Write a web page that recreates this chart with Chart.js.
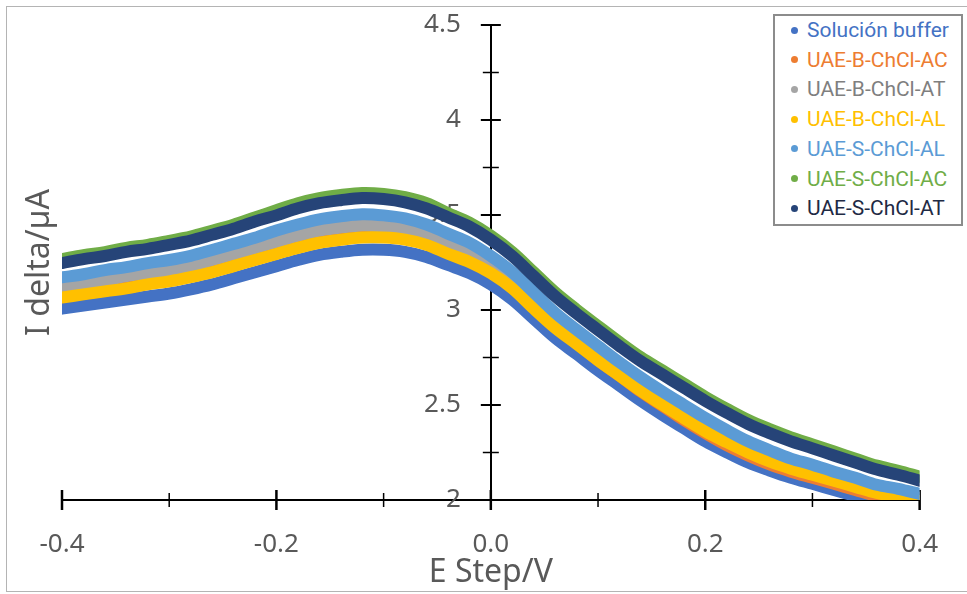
<!DOCTYPE html>
<html><head><meta charset="utf-8">
<script src="https://cdn.jsdelivr.net/npm/chart.js@4.4.1/dist/chart.umd.min.js"></script>
<style>
html,body{margin:0;padding:0;background:#fff;overflow:hidden;}
#wrap{position:relative;width:967px;height:594px;}
#frame{position:absolute;left:6px;top:6px;width:990px;height:586px;border:1px solid #b4b4b4;box-sizing:border-box;pointer-events:none;}
#legend{position:absolute;left:773px;top:14px;width:190px;height:212px;border:2px solid #8c8c8c;box-sizing:border-box;background:#fff;font-family:Roboto,sans-serif;font-size:21px;}
.item{position:absolute;left:32px;height:26px;line-height:26px;white-space:nowrap;}
.dot{position:absolute;left:16px;width:7px;height:7px;border-radius:50%;}
</style></head>
<body><div id="wrap"><canvas id="c" width="967" height="594"></canvas><div id="frame"></div><div id="legend"></div></div>
<script>
const potentials = [-0.40,-0.38,-0.36,-0.34,-0.32,-0.30,-0.28,-0.26,-0.24,-0.22,-0.20,-0.18,-0.16,-0.14,-0.12,-0.10,-0.08,-0.06,-0.04,-0.02,0.00,0.02,0.04,0.06,0.08,0.10,0.12,0.14,0.16,0.18,0.20,0.22,0.24,0.26,0.28,0.30,0.32,0.34,0.36,0.38,0.40];

const seriesNames = ['Solución buffer','UAE-B-ChCl-AC','UAE-B-ChCl-AT','UAE-B-ChCl-AL','UAE-S-ChCl-AL','UAE-S-ChCl-AC','UAE-S-ChCl-AT'];
const seriesColors = ['#4472C4','#ED7D31','#A5A5A5','#FFC000','#5B9BD5','#70AD47','#264478'];
const legendTextColors = ['#4472C4','#ED7D31','#7F7F7F','#FFC000','#5B9BD5','#70AD47','#1F2A44'];

const bufferSol = [3.007,3.023,3.039,3.055,3.071,3.087,3.109,3.135,3.167,3.199,3.231,3.263,3.290,3.306,3.317,3.317,3.306,3.279,3.237,3.194,3.135,3.055,2.954,2.853,2.768,2.682,2.602,2.522,2.448,2.378,2.309,2.251,2.197,2.155,2.117,2.085,2.053,2.021,1.989,1.968,1.947];
const bAC = [3.087,3.103,3.119,3.140,3.156,3.172,3.194,3.226,3.258,3.290,3.322,3.354,3.381,3.397,3.408,3.402,3.391,3.359,3.312,3.269,3.204,3.119,3.018,2.912,2.827,2.735,2.655,2.570,2.496,2.421,2.352,2.288,2.234,2.187,2.149,2.117,2.085,2.053,2.021,2.000,1.979];
const bAT = [3.124,3.140,3.156,3.178,3.194,3.210,3.232,3.263,3.295,3.327,3.359,3.391,3.418,3.434,3.445,3.440,3.429,3.396,3.349,3.301,3.236,3.151,3.050,2.944,2.859,2.767,2.687,2.607,2.528,2.458,2.389,2.326,2.272,2.230,2.186,2.154,2.122,2.085,2.053,2.032,2.011];
const bAL = [3.066,3.082,3.098,3.114,3.135,3.151,3.173,3.199,3.231,3.263,3.295,3.327,3.354,3.370,3.381,3.381,3.370,3.343,3.296,3.253,3.194,3.114,3.007,2.906,2.821,2.735,2.655,2.575,2.501,2.431,2.362,2.304,2.250,2.203,2.165,2.133,2.101,2.069,2.037,2.016,1.995];
const sAL = [3.172,3.188,3.210,3.226,3.247,3.263,3.285,3.316,3.348,3.380,3.418,3.450,3.477,3.493,3.504,3.498,3.482,3.450,3.402,3.354,3.284,3.199,3.093,2.986,2.896,2.810,2.725,2.645,2.571,2.501,2.432,2.368,2.309,2.262,2.218,2.186,2.149,2.117,2.080,2.059,2.032];
const sAC = [3.268,3.289,3.305,3.327,3.343,3.364,3.386,3.417,3.449,3.487,3.525,3.562,3.589,3.605,3.616,3.611,3.594,3.562,3.509,3.460,3.391,3.305,3.199,3.093,3.002,2.916,2.831,2.751,2.682,2.612,2.543,2.480,2.421,2.373,2.330,2.293,2.255,2.218,2.181,2.154,2.123];
const sAT = [3.247,3.268,3.284,3.306,3.322,3.343,3.365,3.396,3.428,3.466,3.498,3.535,3.562,3.578,3.589,3.584,3.567,3.535,3.488,3.439,3.370,3.284,3.178,3.072,2.981,2.895,2.810,2.730,2.661,2.591,2.522,2.459,2.400,2.352,2.309,2.272,2.234,2.197,2.160,2.133,2.102];

const seriesValues = [bufferSol, bAC, bAT, bAL, sAL, sAC, sAT];

const xMajorTicks = [-0.4,-0.2,0,0.2,0.4];
const xMinorTicks = [-0.3,-0.1,0.1,0.3];
const yMajorTicks = [2,2.5,3,3.5,4,4.5];
const yMinorTicks = [2.25,2.75,3.25,3.75,4.25];

const crossTicks = {
  id: 'crossTicks',
  beforeDatasetsDraw(chart) {
    const {ctx, scales: {x, y}} = chart;
    const x0 = x.getPixelForValue(0), y0 = y.getPixelForValue(2);
    ctx.save();
    ctx.strokeStyle = '#000';
    const seg = (x1, y1, x2, y2, w) => { ctx.lineWidth = w; ctx.beginPath(); ctx.moveTo(x1, y1); ctx.lineTo(x2, y2); ctx.stroke(); };
    xMajorTicks.forEach(v => { const p = x.getPixelForValue(v); seg(p, y0 - 10, p, y0 + 10, 2.5); });
    xMinorTicks.forEach(v => { const p = x.getPixelForValue(v); seg(p, y0 - 7, p, y0 + 7, 1.5); });
    yMajorTicks.forEach(v => { const p = y.getPixelForValue(v); seg(x0 - 10, p, x0 + 10, p, 2); });
    yMinorTicks.forEach(v => { const p = y.getPixelForValue(v); seg(x0 - 8, p, x0 + 8, p, 1.5); });
    ctx.restore();
  }
};

const tickFont = {family: "'Noto Sans', sans-serif", size: 26};
const titleFont = {family: "'Noto Sans', sans-serif", size: 32, lineHeight: 1};

new Chart(document.getElementById('c'), {
  type: 'line',
  data: {
    datasets: seriesNames.map((name, i) => ({
      label: name,
      data: potentials.map((xv, j) => ({x: xv, y: seriesValues[i][j]})),
      borderColor: seriesColors[i],
      backgroundColor: seriesColors[i],
      borderWidth: 12,
      pointRadius: 0,
      tension: 0.35,
      fill: false,
      borderCapStyle: 'round',
      borderJoinStyle: 'round',
      order: seriesNames.length - 1 - i,
      xAxisID: 'x',
      yAxisID: 'y'
    }))
  },
  options: {
    responsive: false,
    animation: false,
    devicePixelRatio: 1,
    layout: {padding: {left: 0, right: 47, top: 25, bottom: 0}},
    plugins: {legend: {display: false}, tooltip: {enabled: false}},
    scales: {
      x: {
        type: 'linear', position: 'bottom', min: -0.4, max: 0.4,
        ticks: {stepSize: 0.2, padding: 29, color: '#595959', font: tickFont, maxRotation: 0, autoSkip: false,
          callback: v => Math.abs(v) < 1e-9 ? '0.0' : Number(v).toFixed(1)},
        grid: {display: true, drawOnChartArea: false, drawTicks: false},
        border: {display: true, color: '#000', width: 2},
        title: {display: true, text: 'E Step/V', color: '#595959', font: titleFont, padding: {top: -32, bottom: 4.8}}
      },
      y: {
        type: 'linear', position: 'center', min: 2, max: 4.5,
        ticks: {stepSize: 0.5, padding: 0, color: '#595959', font: tickFont,
          callback: v => String(Math.round(v * 100) / 100)},
        grid: {display: true, drawOnChartArea: false, drawTicks: true, tickLength: 30, tickColor: 'rgba(0,0,0,0)'},
        border: {display: true, color: '#000', width: 2}
      },
      yTitle: {
        type: 'linear', position: 'left', min: 0, max: 1,
        ticks: {display: false},
        grid: {display: false, drawTicks: false},
        border: {display: false},
        title: {display: true, text: 'I delta/µA', color: '#595959', font: titleFont, padding: {top: 24, bottom: 6}}
      }
    }
  },
  plugins: [crossTicks]
});

const legendEl = document.getElementById('legend');
seriesNames.forEach((name, i) => {
  const cy = 14 + i * 29.7;
  const dot = document.createElement('div');
  dot.className = 'dot';
  dot.style.top = (cy - 3.5) + 'px';
  dot.style.background = seriesColors[i];
  legendEl.appendChild(dot);
  const item = document.createElement('div');
  item.className = 'item';
  item.style.top = (cy - 13) + 'px';
  item.style.color = legendTextColors[i];
  item.textContent = name;
  legendEl.appendChild(item);
});
</script>
</body></html>
